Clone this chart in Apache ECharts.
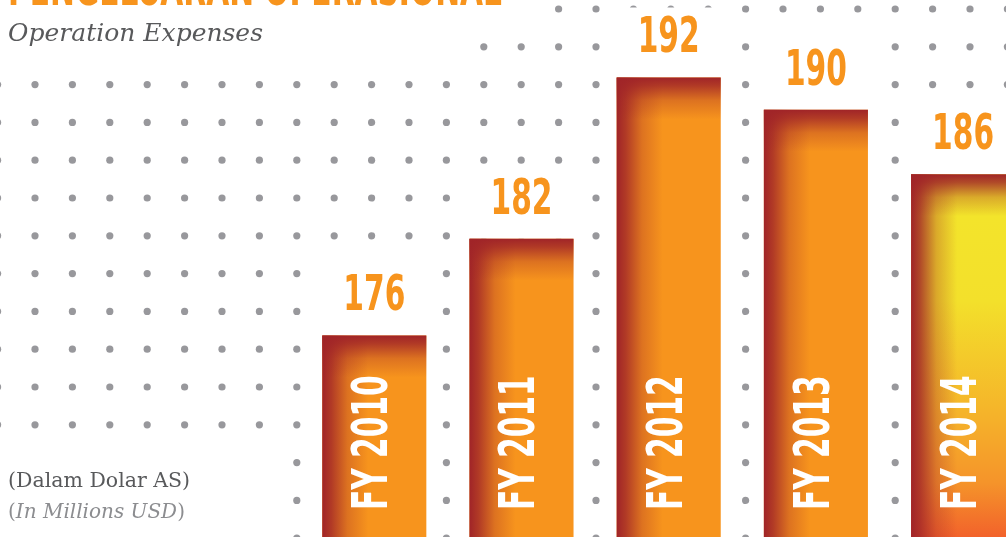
<!DOCTYPE html>
<html>
<head>
<meta charset="utf-8">
<style>
  html, body { margin: 0; padding: 0; background: #fff; }
  #chart { width: 1006px; height: 537px; }
</style>
<script src="https://cdn.jsdelivr.net/npm/echarts@6/dist/echarts.min.js"></script>
</head>
<body>
<div id="chart"></div>
<script>
const categories = ['FY 2010', 'FY 2011', 'FY 2012', 'FY 2013', 'FY 2014']
const expenses = [176, 182, 192, 190, 186]
const highlightYear = 'FY 2014'

const NARROW = '"DejaVu Sans Condensed", "DejaVu Sans", sans-serif'
const SLAB = '"DejaVu Serif", serif'
const ORANGE = '#f7941d'
const DARK = '160, 36, 40'
const TALL = 1.5 // stretch the condensed face so it looks like the tall display font

// tile for the dotted paper behind the chart
function dotTile() {
  const sx = 37.4, sy = 37.8, n = 10
  const c = document.createElement('canvas')
  c.width = Math.round(sx * n)
  c.height = Math.round(sy * n)
  const ctx = c.getContext('2d')
  ctx.fillStyle = '#98989c'
  for (let i = 0; i < n; i++) {
    for (let j = 0; j < n; j++) {
      const x = 35 + sx * i, y = 9 + sy * j
      for (const dx of [-c.width, 0]) {
        ctx.beginPath()
        ctx.arc(x + dx, y, 3.6, 0, Math.PI * 2)
        ctx.fill()
      }
    }
  }
  return c
}

function edgeGlow(x, y, x2, y2) {
  return {
    type: 'linear', x, y, x2, y2, global: true,
    colorStops: [
      { offset: 0, color: `rgba(${DARK},1)` },
      { offset: 0.2, color: `rgba(${DARK},0.8)` },
      { offset: 0.55, color: `rgba(${DARK},0.3)` },
      { offset: 1, color: `rgba(${DARK},0)` }
    ]
  }
}

function renderBar(params, api) {
  const i = api.value(0)
  const v = api.value(1)
  const top = api.coord([i, v])
  const w = api.size([1, 0])[0] * 0.707
  const cs = params.coordSys
  const bottom = cs.y + cs.height
  const left = top[0] - w / 2
  const h = bottom - top[1]
  const box = { x: left, y: top[1], width: w, height: h }
  const hot = categories[i] === highlightYear
  const base = hot ? {
    type: 'linear', x: 0, y: 0, x2: 0, y2: 1,
    colorStops: [
      { offset: 0, color: '#f3e62b' },
      { offset: 0.35, color: '#f3e02b' },
      { offset: 0.65, color: '#f5b52a' },
      { offset: 0.85, color: '#f5942a' },
      { offset: 1, color: '#f2622b' }
    ]
  } : ORANGE
  return {
    type: 'group',
    children: [
      { type: 'rect', shape: { x: left, y: top[1] - 70, width: w, height: 70 }, style: { fill: '#fff' } },
      { type: 'rect', shape: box, style: { fill: base } },
      { type: 'rect', shape: box, style: { fill: edgeGlow(left, 0, left + 46, 0) } },
      { type: 'rect', shape: box, style: { fill: edgeGlow(0, top[1], 0, top[1] + 42) } },
      {
        type: 'text', x: top[0], y: top[1] - 38, scaleY: TALL,
        style: { text: String(v), fill: ORANGE, font: `bold 33px ${NARROW}`, align: 'center', verticalAlign: 'middle' }
      },
      {
        type: 'text', x: top[0], y: bottom - 27, rotation: Math.PI / 2, scaleY: TALL,
        style: { text: categories[i], fill: '#fff', font: `bold 33px ${NARROW}`, align: 'left', verticalAlign: 'middle' }
      }
    ]
  }
}

const chart = echarts.init(document.getElementById('chart'))
chart.setOption({
  animation: false,
  backgroundColor: '#fff',
  graphic: [
    { type: 'rect', z: 0, shape: { x: 0, y: 0, width: 1006, height: 537 }, style: { fill: { image: dotTile(), repeat: 'repeat' } } },
    { type: 'rect', z: 1, shape: { x: 0, y: 0, width: 540, height: 28 }, style: { fill: '#fff' } },
    { type: 'rect', z: 1, shape: { x: 0, y: 0, width: 468, height: 65 }, style: { fill: '#fff' } },
    { type: 'rect', z: 1, shape: { x: 0, y: 445, width: 280, height: 92 }, style: { fill: '#fff' } },
    { type: 'text', z: 3, x: 8, y: -8, scaleY: TALL, style: { text: 'PENGELUARAN OPERASIONAL', fill: ORANGE, font: `bold 33px ${NARROW}`, verticalAlign: 'middle' } },
    { type: 'text', z: 3, x: 8, y: 34, style: { text: 'Operation Expenses', fill: '#58595b', font: `italic 25px ${SLAB}`, verticalAlign: 'middle' } },
    { type: 'text', z: 3, x: 8, y: 482, style: { text: '(Dalam Dolar AS)', fill: '#58595b', font: `20.5px ${SLAB}`, verticalAlign: 'middle' } },
    {
      type: 'text', z: 3, x: 8, y: 513,
      style: {
        text: '{p|(}{i|In Millions USD}{p|)}',
        verticalAlign: 'middle',
        rich: {
          p: { fill: '#8c8d90', font: `20px ${SLAB}` },
          i: { fill: '#8c8d90', font: `italic 20px ${SLAB}` }
        }
      }
    }
  ],
  grid: { left: 300.7, width: 736, top: 0, bottom: 0, outerBoundsMode: 'none' },
  xAxis: { type: 'category', data: categories, show: false },
  yAxis: { type: 'value', min: 163.5, max: 196.8, show: false },
  series: [{
    type: 'custom',
    z: 2,
    renderItem: renderBar,
    data: expenses.map((v, i) => [i, v])
  }]
})
</script>
</body>
</html>
